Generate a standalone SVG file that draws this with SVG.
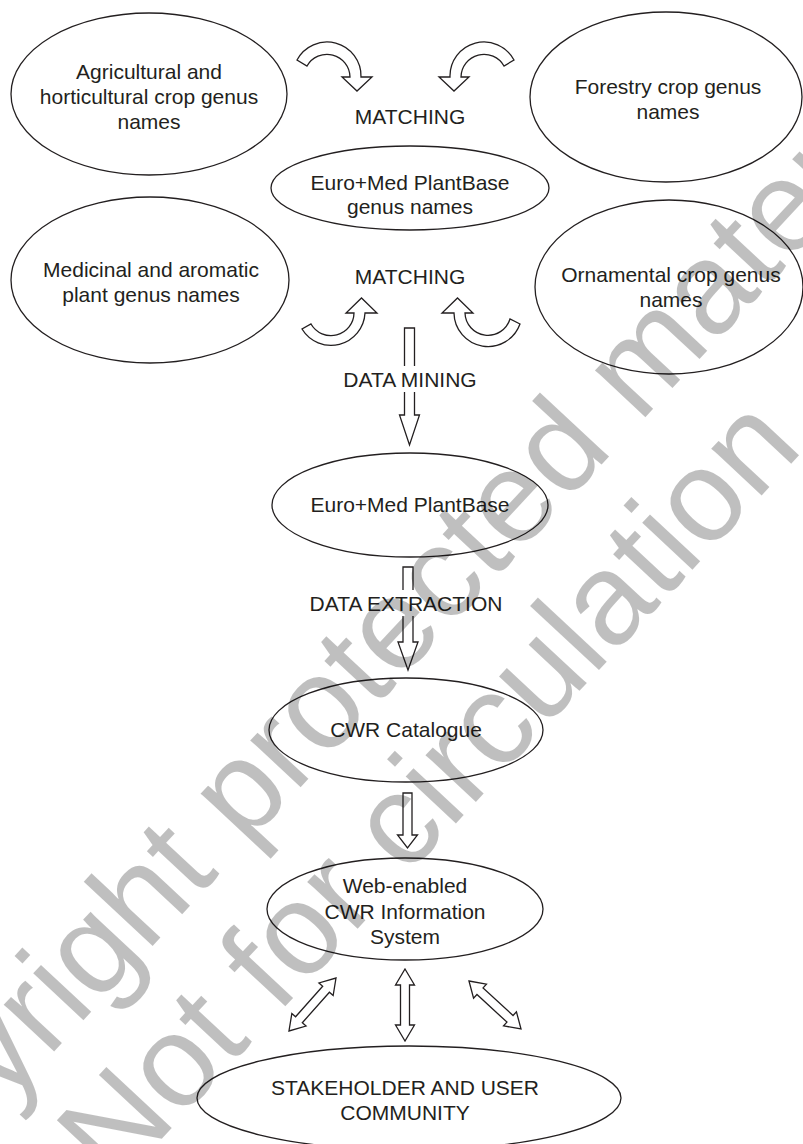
<svg xmlns="http://www.w3.org/2000/svg" width="803" height="1144" viewBox="0 0 803 1144">
<style>
.n{fill:none;stroke:#231f20;stroke-width:1.3}
.a{fill:#fff;stroke:#231f20;stroke-width:1.3;stroke-linejoin:miter}
.t{font-family:"Liberation Sans",Arial,sans-serif;font-size:21px;fill:#231f20;text-anchor:middle}
.bg{fill:#fff}
.wm{font-family:"Liberation Sans",Arial,sans-serif;font-size:130px;fill:#000;fill-opacity:0.25}
</style>
<rect width="803" height="1144" fill="#fff"/>
<g id="connectors">
<path class="a" d="M297,60 A34,34 0 0 1 361,77 L372,77 L357,91 L342,77 L350,77 A23,23 0 0 0 307,66 Z"/>
<path class="a" d="M514,60 A34,34 0 0 0 450,77 L439,77 L454,91 L469,77 L461,77 A23,23 0 0 1 504,66 Z"/>
<path class="a" d="M302,329 A34,34 0 0 0 365,313 L377,313 L361.5,298 L346,313 L354,313 A23,23 0 0 1 311,324 Z"/>
<path class="a" d="M520,324 A34,34 0 0 1 454,313 L442,313 L457.5,298 L473,313 L465,313 A23,23 0 0 0 510,319 Z"/>
<path class="a" d="M404.5,328 L414.5,328 L414.5,415 L419.5,415 L409.5,445 L399.5,415 L404.5,415 Z"/>
<path class="a" d="M403,567 L413,567 L413,642 L418,642 L408,670 L398,642 L403,642 Z"/>
<path class="a" d="M403,793 L412,793 L412,835 L417.5,835 L407.5,848 L397.5,835 L403,835 Z"/>
<path class="a" d="M405,969 L414.5,985 L409.5,985 L409.5,1025 L414.5,1025 L405,1041 L395.5,1025 L400.5,1025 L400.5,985 L395.5,985 Z"/>
<path class="a" transform="translate(312.5,1004.5) rotate(-48.4)" d="M-35.4,0 L-20.4,-9.5 L-20.4,-4.5 L20.4,-4.5 L20.4,-9.5 L35.4,0 L20.4,9.5 L20.4,4.5 L-20.4,4.5 L-20.4,9.5 Z"/>
<path class="a" transform="translate(495,1005) rotate(42.7)" d="M-35.4,0 L-20.4,-9.5 L-20.4,-4.5 L20.4,-4.5 L20.4,-9.5 L35.4,0 L20.4,9.5 L20.4,4.5 L-20.4,4.5 L-20.4,9.5 Z"/>
</g>
<g id="n-agri"><ellipse class="n" cx="149" cy="94" rx="138" ry="81"/><text class="t" x="149" y="79">Agricultural and</text><text class="t" x="149" y="104">horticultural crop genus</text><text class="t" x="149" y="129">names</text></g>
<g id="n-forestry"><ellipse class="n" cx="666" cy="97" rx="136" ry="85"/><text class="t" x="668" y="94">Forestry crop genus</text><text class="t" x="668" y="119">names</text></g>
<g id="n-genus"><ellipse class="n" cx="410" cy="188" rx="139" ry="42"/><text class="t" x="410" y="190">Euro+Med PlantBase</text><text class="t" x="410" y="214">genus names</text></g>
<g id="n-medicinal"><ellipse class="n" cx="150" cy="280" rx="139" ry="83"/><text class="t" x="151" y="277">Medicinal and aromatic</text><text class="t" x="151" y="302">plant genus names</text></g>
<g id="n-ornamental"><ellipse class="n" cx="669" cy="287" rx="134" ry="87"/><text class="t" x="671" y="282">Ornamental crop genus</text><text class="t" x="671" y="307">names</text></g>
<g id="l-matching1"><text class="t" x="410" y="124">MATCHING</text></g>
<g id="l-matching2"><text class="t" x="410" y="284">MATCHING</text></g>
<g id="l-mining"><rect class="bg" x="340" y="366" width="140" height="26"/><text class="t" x="410" y="387">DATA MINING</text></g>
<g id="n-plantbase"><ellipse class="n" cx="410" cy="505" rx="138" ry="52"/><text class="t" x="410" y="512">Euro+Med PlantBase</text></g>
<g id="l-extraction"><rect class="bg" x="304" y="590" width="204" height="26"/><text class="t" x="406" y="611">DATA EXTRACTION</text></g>
<g id="n-cwr"><ellipse class="n" cx="406" cy="730" rx="137" ry="52"/><text class="t" x="406" y="737">CWR Catalogue</text></g>
<g id="n-web"><ellipse class="n" cx="405" cy="909" rx="138" ry="51"/><text class="t" x="405" y="893">Web-enabled</text><text class="t" x="405" y="919">CWR Information</text><text class="t" x="405" y="944">System</text></g>
<g id="n-stakeholder"><ellipse class="n" cx="409" cy="1098" rx="212" ry="52"/><text class="t" x="405" y="1095">STAKEHOLDER AND USER</text><text class="t" x="405" y="1120">COMMUNITY</text></g>
<g id="watermark">
<text class="wm" transform="translate(-159,1280) rotate(-47)">Copyright protected material</text>
<text class="wm" transform="translate(115,1189) rotate(-47)">Not for circulation</text>
</g>
</svg>
